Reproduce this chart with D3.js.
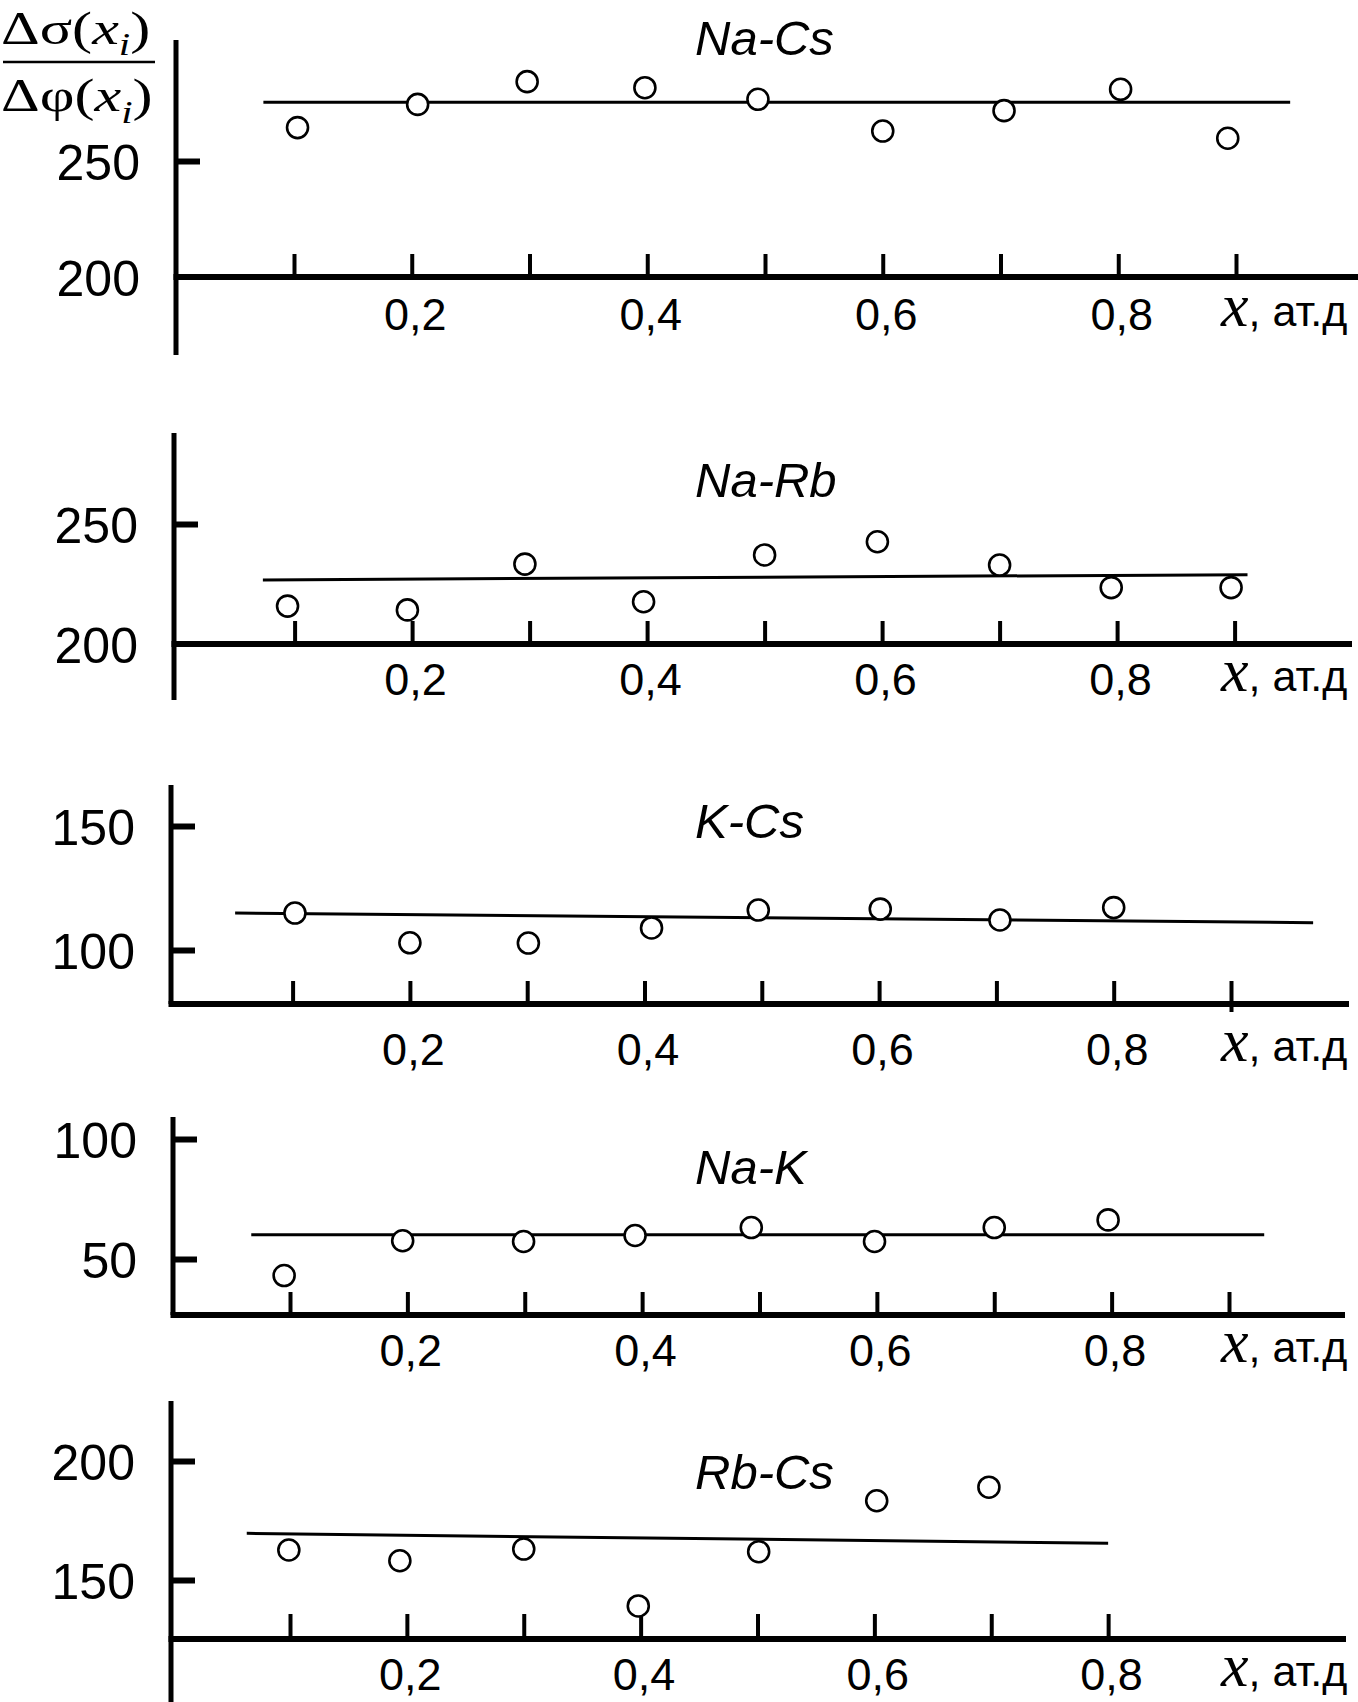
<!DOCTYPE html>
<html><head><meta charset="utf-8">
<script src="https://cdn.jsdelivr.net/npm/d3@7"></script>
<style>
html,body{margin:0;padding:0;background:#fff;}
svg{display:block;}
</style></head><body>
<svg id="c" width="1358" height="1702"></svg>
<script>
// ---------------- DATA ----------------
const panelNames = ["Na-Cs", "Na-Rb", "K-Cs", "Na-K", "Rb-Cs"];

const xNaCs = [0.103, 0.205, 0.298, 0.398, 0.494, 0.600, 0.703, 0.802, 0.893];
const yNaCs = [264.4, 274.4, 284.2, 281.6, 276.6, 262.9, 271.7, 280.9, 259.8];
const fitXNaCs = [0.074, 0.946];
const fitYNaCs = [275.3, 275.3];

const xNaRb = [0.094, 0.196, 0.296, 0.397, 0.500, 0.596, 0.700, 0.795, 0.897];
const yNaRb = [215.8, 214.2, 233.3, 217.6, 237.1, 242.6, 232.9, 223.5, 223.5];
const fitXNaRb = [0.073, 0.911];
const fitYNaRb = [226.7, 228.9];

const xKCs = [0.102, 0.200, 0.301, 0.406, 0.497, 0.601, 0.703, 0.800];
const yKCs = [114.9, 102.9, 102.8, 108.9, 116.1, 116.5, 112.1, 117.1];
const fitXKCs = [0.051, 0.970];
const fitYKCs = [114.9, 111.0];

const xNaK = [0.095, 0.196, 0.299, 0.394, 0.493, 0.598, 0.700, 0.797];
const yNaK = [43.1, 57.6, 57.3, 59.8, 63.1, 57.3, 63.1, 66.3];
const fitXNaK = [0.067, 0.930];
const fitYNaK = [60.1, 60.1];

const xRbCs = [0.099, 0.194, 0.300, 0.398, 0.501, 0.602, 0.698];
const yRbCs = [162.6, 158.1, 163.0, 139.1, 161.9, 183.3, 189.0];
const fitXRbCs = [0.063, 0.800];
const fitYRbCs = [169.6, 165.4];

// tick values / labels
const xTicksFull = [0.1, 0.2, 0.3, 0.4, 0.5, 0.6, 0.7, 0.8, 0.9];
const xTicksShort = [0.1, 0.2, 0.3, 0.4, 0.5, 0.6, 0.7, 0.8];
const xLabelValues = [0.2, 0.4, 0.6, 0.8];
const xLabelTexts = ["0,2", "0,4", "0,6", "0,8"];
const yTicksNaCs = [200, 250];
const yTicksNaRb = [200, 250];
const yTicksKCs = [100, 150];
const yTicksNaK = [50, 100];
const yTicksRbCs = [150, 200];
const xAxisTitleVar = "x";
const xAxisTitleUnit = ", ат.д";

const series = [
  {xs: xNaCs, ys: yNaCs, fx: fitXNaCs, fy: fitYNaCs, yt: yTicksNaCs, xt: xTicksFull},
  {xs: xNaRb, ys: yNaRb, fx: fitXNaRb, fy: fitYNaRb, yt: yTicksNaRb, xt: xTicksFull},
  {xs: xKCs,  ys: yKCs,  fx: fitXKCs,  fy: fitYKCs,  yt: yTicksKCs,  xt: xTicksFull},
  {xs: xNaK,  ys: yNaK,  fx: fitXNaK,  fy: fitYNaK,  yt: yTicksNaK,  xt: xTicksFull},
  {xs: xRbCs, ys: yRbCs, fx: fitXRbCs, fy: fitYRbCs, yt: yTicksRbCs, xt: xTicksShort}
];

// ---------------- LAYOUT (pixels) ----------------
const layout = [
  {axisX:176, yTop:40,   yBottom:355,  axisY:277,  xEnd:1358, yPx:[277,161],    xPx:[294,1236],     labelBase:330,  titleBase:55,   tickLen:23, crossLast:false},
  {axisX:174, yTop:433,  yBottom:700,  axisY:644,  xEnd:1352, yPx:[644,524],    xPx:[294.6,1234.6], labelBase:695,  titleBase:497,  tickLen:23, crossLast:false},
  {axisX:171, yTop:785,  yBottom:1004, axisY:1004, xEnd:1349, yPx:[950,826],    xPx:[292.6,1231],   labelBase:1065, titleBase:838,  tickLen:23, crossLast:true},
  {axisX:173, yTop:1117, yBottom:1315, axisY:1315, xEnd:1345, yPx:[1259,1139],  xPx:[290,1229],     labelBase:1366, titleBase:1184, tickLen:23, crossLast:false},
  {axisX:171, yTop:1401, yBottom:1702, axisY:1639, xEnd:1346, yPx:[1580,1461],  xPx:[290,1225],     labelBase:1690, titleBase:1489, tickLen:25, crossLast:false}
];

const SANS = "'Liberation Sans', Arial, Helvetica, sans-serif";
const SERIF = "'Liberation Serif', 'Times New Roman', Times, serif";

const svg = d3.select("#c");
svg.append("rect").attr("width",1358).attr("height",1702).attr("fill","#fff");

series.forEach((s, i) => {
  const L = layout[i];
  const g = svg.append("g");
  const x = d3.scaleLinear().domain([0.1, 0.9]).range(L.xPx);
  const y = d3.scaleLinear().domain(s.yt).range(L.yPx);

  // fit line
  const line = d3.line().x(d => x(d[0])).y(d => y(d[1]));
  g.append("path")
    .datum(s.fx.map((v, k) => [v, s.fy[k]]))
    .attr("d", line)
    .attr("fill", "none").attr("stroke", "#000").attr("stroke-width", 3);

  // y axis line
  g.append("line")
    .attr("x1", L.axisX).attr("x2", L.axisX)
    .attr("y1", L.yTop).attr("y2", L.yBottom)
    .attr("stroke", "#000").attr("stroke-width", 5);

  // x axis line
  g.append("line")
    .attr("x1", L.axisX - 2.5).attr("x2", L.xEnd)
    .attr("y1", L.axisY).attr("y2", L.axisY)
    .attr("stroke", "#000").attr("stroke-width", 6);

  // x tick marks (upward)
  const xt = g.append("g").attr("transform", `translate(0,${L.axisY})`)
    .call(d3.axisTop(x).tickValues(s.xt).tickSize(L.tickLen).tickFormat(""));
  xt.select(".domain").remove();
  xt.selectAll(".tick line").attr("stroke", "#000").attr("stroke-width", 4)
    .attr("y1", d => (L.crossLast && d === 0.9) ? 8 : 0);

  // x tick labels
  const xl = g.append("g").attr("transform", `translate(0,${L.axisY})`)
    .call(d3.axisBottom(x).tickValues(xLabelValues).tickSize(0)
      .tickFormat((d, k) => xLabelTexts[k]));
  xl.select(".domain").remove();
  xl.selectAll(".tick text")
    .attr("x", 3).attr("dy", null)
    .attr("y", L.labelBase - L.axisY)
    .attr("fill", "#000")
    .style("font-family", SANS).style("font-size", "45px");

  // y tick marks (rightward) - only those above axis
  const yMarks = s.yt.filter(v => Math.abs(y(v) - L.axisY) > 3);
  const ym = g.append("g").attr("transform", `translate(${L.axisX},0)`)
    .call(d3.axisRight(y).tickValues(yMarks).tickSize(24).tickFormat(""));
  ym.select(".domain").remove();
  ym.selectAll(".tick line").attr("stroke", "#000").attr("stroke-width", 6);

  // y tick labels
  const yl = g.append("g").attr("transform", `translate(${L.axisX},0)`)
    .call(d3.axisLeft(y).tickValues(s.yt).tickSize(0).tickPadding(36));
  yl.select(".domain").remove();
  yl.selectAll(".tick text")
    .attr("dy", "0.37em")
    .attr("fill", "#000")
    .style("font-family", SANS).style("font-size", "50px");

  // x axis title
  const xtit = g.append("text")
    .attr("x", 1221).attr("y", L.labelBase - 4)
    .attr("fill", "#000");
  xtit.append("tspan").text(xAxisTitleVar)
    .style("font-family", SERIF).style("font-style", "italic").style("font-size", "62px");
  xtit.append("tspan").text(xAxisTitleUnit)
    .style("font-family", SANS).style("font-size", "43px");

  // panel title
  g.append("text")
    .attr("x", 695).attr("y", L.titleBase)
    .attr("fill", "#000")
    .style("font-family", SANS).style("font-style", "italic").style("font-size", "49px")
    .text(panelNames[i]);

  // points
  g.selectAll("circle.pt")
    .data(s.xs.map((v, k) => [v, s.ys[k]]))
    .join("circle").attr("class", "pt")
    .attr("cx", d => x(d[0])).attr("cy", d => y(d[1]))
    .attr("r", 10.5)
    .attr("fill", "#fff").attr("stroke", "#000").attr("stroke-width", 2.6);
});

// y-axis quantity label (fraction)
const fr = svg.append("g").attr("transform", "translate(1,0) scale(1.28,1)")
  .style("font-family", SERIF).attr("fill", "#000");
function fracPart(yBase, sym, subDy) {
  const t = fr.append("text").attr("x", 0).attr("y", yBase).style("font-size", "47px");
  t.append("tspan").text("Δ" + sym + "(");
  t.append("tspan").text("x").style("font-style", "italic");
  t.append("tspan").text("i").style("font-style", "italic").style("font-size", "32px").attr("dy", subDy);
  t.append("tspan").text(")").attr("dy", -subDy);
}
fracPart(44, "σ", 11);
fracPart(111, "φ", 12);
svg.append("line").attr("x1", 3).attr("x2", 155).attr("y1", 62).attr("y2", 62)
  .attr("stroke", "#000").attr("stroke-width", 2.3);
</script>
</body></html>
